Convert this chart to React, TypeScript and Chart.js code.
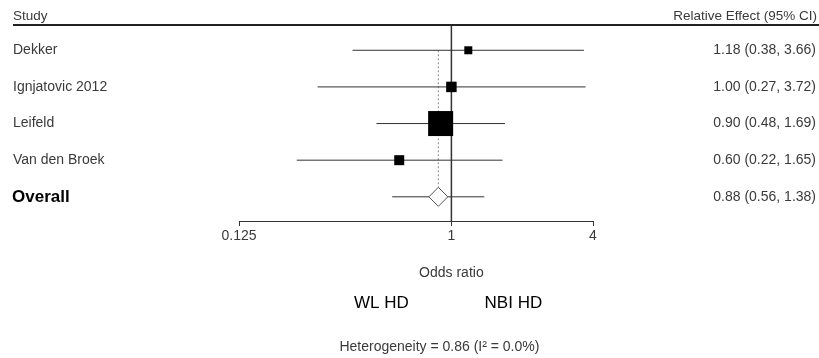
import React, { useEffect, useRef } from 'react';
import { Chart, registerables } from 'chart.js';

Chart.register(...registerables);

// ---- data ----
const studies = ['Dekker', 'Ignjatovic 2012', 'Leifeld', 'Van den Broek'];
const oddsRatios = [1.18, 1.0, 0.9, 0.6];
const ciLower = [0.38, 0.27, 0.48, 0.22];
const ciUpper = [3.66, 3.72, 1.69, 1.65];
const weights = [7.1, 12.2, 69.5, 11.1]; // % weight (square area)
const overallLabel = 'Overall';
const overallOR = 0.88;
const overallCI = [0.56, 1.38];
const xTicks = [0.125, 1, 4];
const headerLeft = 'Study';
const headerRight = 'Relative Effect (95% CI)';
const axisTitle = 'Odds ratio';
const favourLeft = 'WL HD';
const favourRight = 'NBI HD';
const heterogeneityText = 'Heterogeneity = 0.86 (I\u00B2 = 0.0%)';

const FONT = "'Liberation Sans', Arial, sans-serif";
const fmt = (v: number) => v.toFixed(2);

export default function App() {
  const ref = useRef<HTMLCanvasElement | null>(null);

  useEffect(() => {
    if (!ref.current) return;
    const yMin = -0.69;
    const yMax = 4.66;
    const overallRow = studies.length;

    const squareData = studies.map((_, i) => ({ x: oddsRatios[i], y: i }));
    const squareRadius = weights.map((w) => (3.0 * Math.sqrt(w)) / Math.SQRT2);

    const ciDatasets = studies.map((s, i) => ({
      type: 'line' as const,
      label: s + ' CI',
      data: [
        { x: ciLower[i], y: i },
        { x: ciUpper[i], y: i },
      ],
      borderColor: '#333',
      borderWidth: 1,
      pointRadius: 0,
      order: 5,
    }));

    const textPlugin = {
      id: 'forestText',
      afterDraw(chart: any) {
        const ctx = chart.ctx;
        const xs = chart.scales.x;
        const ys = chart.scales.y;
        const area = chart.chartArea;
        ctx.save();
        // top rule
        ctx.strokeStyle = '#222';
        ctx.lineWidth = 2;
        ctx.beginPath();
        ctx.moveTo(13, area.top);
        ctx.lineTo(819, area.top);
        ctx.stroke();

        ctx.fillStyle = '#3a3a3a';
        ctx.textBaseline = 'middle';
        ctx.font = `13.5px ${FONT}`;
        ctx.textAlign = 'left';
        ctx.fillText(headerLeft, 13, area.top - 9);
        ctx.textAlign = 'right';
        ctx.fillText(headerRight, 817, area.top - 9);

        studies.forEach((s, i) => {
          const y = ys.getPixelForValue(i);
          ctx.font = `14px ${FONT}`;
          ctx.textAlign = 'left';
          ctx.fillText(s, 13, y);
          ctx.textAlign = 'right';
          ctx.fillText(`${fmt(oddsRatios[i])} (${fmt(ciLower[i])}, ${fmt(ciUpper[i])})`, 816, y);
        });
        const yo = ys.getPixelForValue(overallRow);
        ctx.fillStyle = '#000';
        ctx.font = `bold 17px ${FONT}`;
        ctx.textAlign = 'left';
        ctx.fillText(overallLabel, 12, yo);
        ctx.fillStyle = '#3a3a3a';
        ctx.font = `14px ${FONT}`;
        ctx.textAlign = 'right';
        ctx.fillText(`${fmt(overallOR)} (${fmt(overallCI[0])}, ${fmt(overallCI[1])})`, 816, yo);

        const x1 = xs.getPixelForValue(1);
        ctx.textAlign = 'center';
        ctx.font = `14px ${FONT}`;
        ctx.fillText(axisTitle, x1, 273);
        ctx.fillStyle = '#000';
        ctx.font = `17px ${FONT}`;
        ctx.fillText(favourLeft, x1 - 70, 303);
        ctx.fillText(favourRight, x1 + 62, 303);
        ctx.fillStyle = '#3a3a3a';
        ctx.font = `14px ${FONT}`;
        ctx.fillText(heterogeneityText, x1 - 12, 347);
        ctx.restore();
      },
    };

    const chart = new Chart(ref.current, {
      type: 'scatter',
      data: {
        datasets: [
          {
            type: 'scatter',
            label: 'Overall',
            data: [{ x: overallOR, y: overallRow }],
            pointStyle: 'rectRot',
            pointRadius: 9.5,
            backgroundColor: '#fff',
            borderColor: '#555',
            borderWidth: 1,
            order: 0,
          },
          {
            type: 'scatter',
            label: 'Studies',
            data: squareData,
            pointStyle: 'rect',
            pointRadius: squareRadius,
            backgroundColor: '#000',
            borderColor: '#000',
            borderWidth: 0,
            order: 1,
          },
          {
            type: 'line',
            label: 'Overall CI',
            data: [
              { x: overallCI[0], y: overallRow },
              { x: overallCI[1], y: overallRow },
            ],
            borderColor: '#333',
            borderWidth: 1,
            pointRadius: 0,
            order: 5,
          },
          {
            type: 'line',
            label: 'Pooled',
            data: [
              { x: overallOR, y: 0 },
              { x: overallOR, y: overallRow },
            ],
            borderColor: '#888',
            borderWidth: 1,
            borderDash: [2, 2],
            pointRadius: 0,
            order: 6,
          },
          {
            type: 'line',
            label: 'No effect',
            data: [
              { x: 1, y: yMin },
              { x: 1, y: yMax },
            ],
            borderColor: '#333',
            borderWidth: 1.5,
            pointRadius: 0,
            order: 7,
          },
          ...ciDatasets,
        ] as any,
      },
      options: {
        animation: false,
        responsive: false,
        layout: { padding: { left: 239, right: 226, top: 25, bottom: 117 } },
        plugins: { legend: { display: false }, tooltip: { enabled: false } },
        scales: {
          x: {
            type: 'logarithmic',
            min: 0.125,
            max: 4,
            afterBuildTicks: (scale: any) => {
              scale.ticks = xTicks.map((v) => ({ value: v }));
            },
            afterFit: (scale: any) => {
              scale.height = 20;
            },
            grid: { drawOnChartArea: false, drawTicks: true, tickLength: 5, color: '#333' },
            border: { display: true, color: '#333', width: 1 },
            ticks: {
              color: '#3a3a3a',
              font: { family: FONT, size: 14 },
              padding: 2,
              maxRotation: 0,
              autoSkip: false,
              callback: (v: any) => String(v),
            },
          },
          y: {
            type: 'linear',
            reverse: true,
            min: yMin,
            max: yMax,
            display: false,
          },
        },
      },
      plugins: [textPlugin],
    });
    return () => chart.destroy();
  }, []);

  return (
    <div style={{ position: 'absolute', left: 0, top: 0, width: 819, height: 358, background: '#fff' }}>
      <canvas ref={ref} width={819} height={358} style={{ width: 819, height: 358, display: 'block' }} />
    </div>
  );
}
